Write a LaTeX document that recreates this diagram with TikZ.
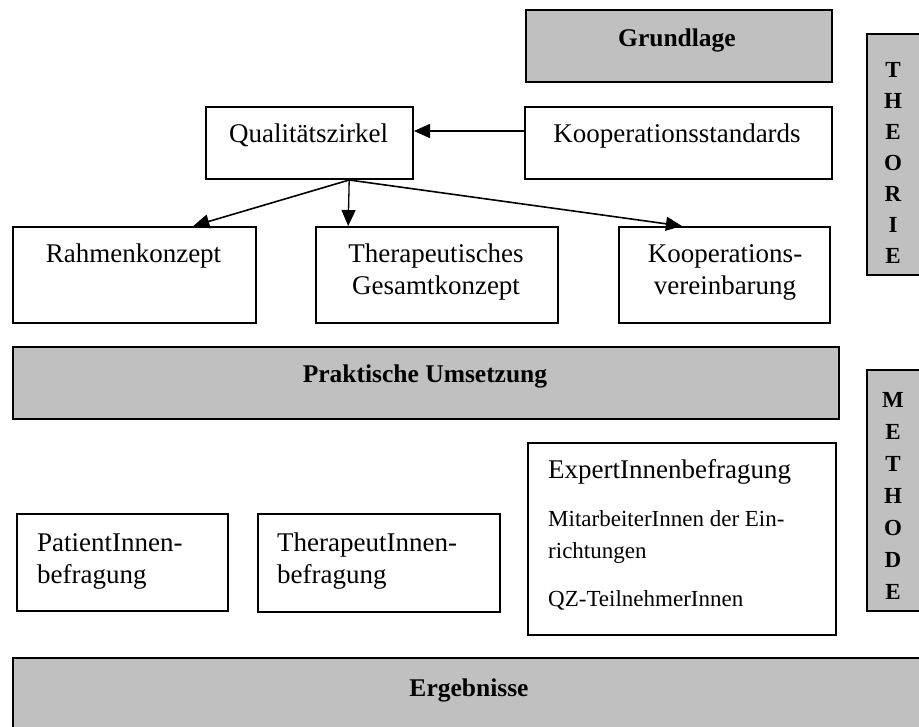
\documentclass[tikz,border=0pt]{standalone}
\usepackage{fontspec}
\setmainfont{Liberation Serif}
\usetikzlibrary{arrows.meta,calc}
\definecolor{boxgray}{HTML}{C0C0C0}
\begin{document}
\begin{tikzpicture}[x=1pt,y=-1pt,
  frame/.style={draw=black,line width=2pt,inner sep=0pt,anchor=north west},
  plainbox/.style={frame,fill=white},
  graybox/.style={frame,fill=boxgray},
  txt/.style={anchor=base,inner sep=0pt,font=\fontsize{27}{32}\selectfont},
  ltxt/.style={txt,align=left,anchor=base west},
  ctxt/.style={txt,align=center},
  small/.style={anchor=base west,inner sep=0pt,align=left,font=\fontsize{23}{32}\selectfont},
  head/.style={anchor=base,inner sep=0pt,font=\fontsize{25.5}{30}\selectfont\bfseries},
  vert/.style={anchor=base,inner sep=0pt,align=center,font=\fontsize{23}{#1}\selectfont\bfseries},
  arr/.style={-{Triangle[length=16pt,width=14pt]},line width=1.6pt},
  thinarr/.style={arr,line width=1.3pt}]
\clip (0,0) rectangle (919,727);

% side bars (multi-line nodes are placed by their last baseline)
\node[graybox,minimum width=60pt,minimum height=241pt] (theo) at (866,33) {};
\node[vert=31pt] (theot) at (893,264) {T\\H\\E\\O\\R\\I\\E};
\node[graybox,minimum width=60pt,minimum height=241pt] (meth) at (866,369) {};
\node[vert=32pt] (metht) at (893,599) {M\\E\\T\\H\\O\\D\\E};

% theory part
\node[graybox,minimum width=306pt,minimum height=72pt] (gl) at (525,9) {};
\node[head] (glt) at (677,47) {Grundlage};

\node[plainbox,minimum width=207pt,minimum height=72pt] (qz) at (205,106) {};
\node[txt] (qzt) at (308.5,143) {Qualitätszirkel};

\node[plainbox,minimum width=307pt,minimum height=72pt] (ks) at (524,106) {};
\node[txt] (kst) at (677,143) {Kooperationsstandards};

\node[plainbox,minimum width=243pt,minimum height=96pt] (rk) at (12,226) {};
\node[txt] (rkt) at (133.5,263) {Rahmenkonzept};

\node[plainbox,minimum width=242pt,minimum height=96pt] (tg) at (315,226) {};
\node[ctxt] (tgt) at (436,295) {Therapeutisches\\Gesamtkonzept};

\node[plainbox,minimum width=211pt,minimum height=96pt] (kv) at (618,226) {};
\node[ctxt] (kvt) at (725,295) {Kooperations-\\vereinbarung};

% connectors
\draw[arr] ($(ks.west)+(0,-12)$) -- ($(qz.east)+(0,-12)$);
\coordinate (qzb) at ($(qz.south west)!0.69!(qz.south east)$);
\draw[arr] (qzb) -- ($(rk.north west)!0.74!(rk.north east)$);
\draw[thinarr] (qzb) -- ($(tg.north west)!0.136!(tg.north east)$);
\draw[arr] (qzb) -- ($(kv.north west)!0.30!(kv.north east)$);

% method part
\node[graybox,minimum width=826pt,minimum height=72pt] (pu) at (12,346) {};
\node[head] (put) at (425,383) {Praktische Umsetzung};

\node[plainbox,minimum width=211pt,minimum height=97pt] (pb) at (16,513) {};
\node[ltxt] (pbt) at (37,583) {PatientInnen-\\befragung};

\node[plainbox,minimum width=242pt,minimum height=98pt] (tb) at (257,513) {};
\node[ltxt] (tbt) at (277,583) {TherapeutInnen-\\befragung};

\node[plainbox,minimum width=308pt,minimum height=192pt] (eb) at (527,442) {};
\node[ltxt] (ebt) at (548,478) {ExpertInnenbefragung};
\node[small] (ebm) at (548,558) {MitarbeiterInnen der Ein-\\richtungen};
\node[small] (ebq) at (548,606) {QZ-TeilnehmerInnen};

% results
\node[graybox,minimum width=914pt,minimum height=75pt] (er) at (12,657) {};
\node[head] (ert) at (469,696) {Ergebnisse};
\end{tikzpicture}
\end{document}
